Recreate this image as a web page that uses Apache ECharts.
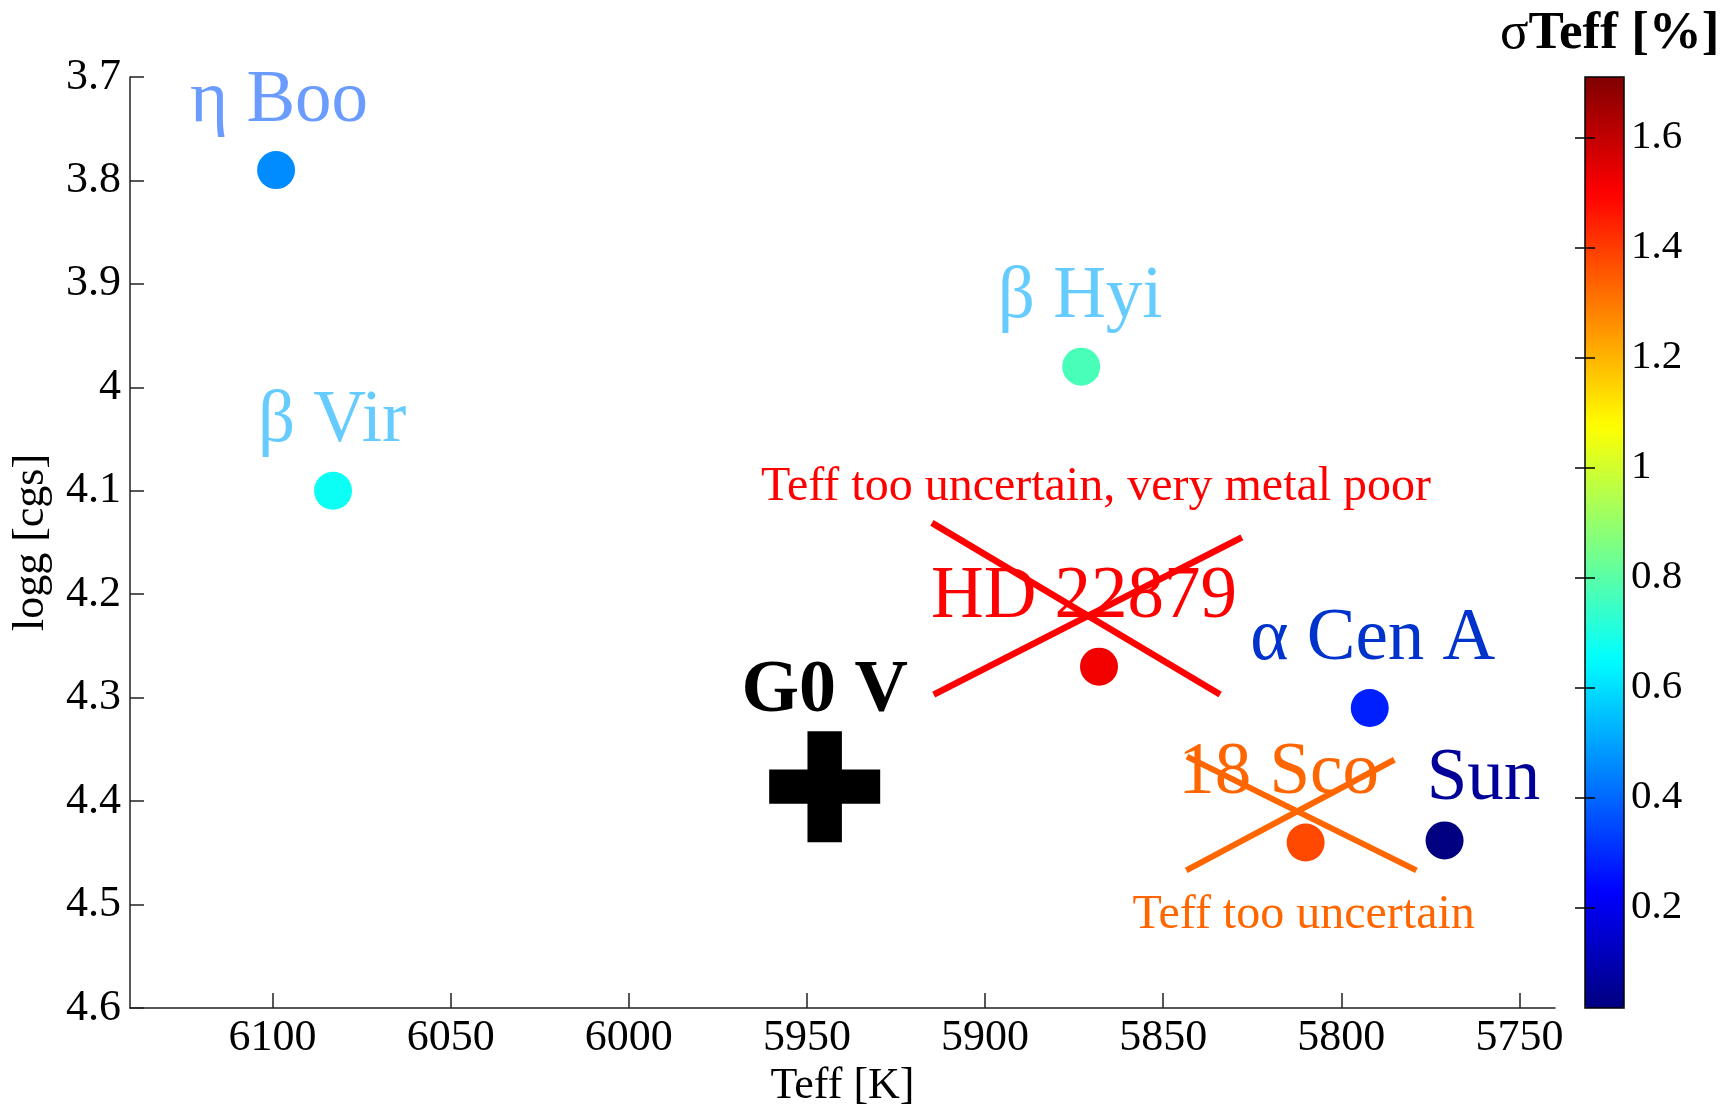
<!DOCTYPE html>
<html>
<head>
<meta charset="utf-8">
<title>Benchmark stars: Teff vs logg</title>
<script src="https://cdn.jsdelivr.net/npm/echarts@6/dist/echarts.min.js"></script>
<style>
  html, body { margin: 0; padding: 0; background: #fff; }
  #chart { width: 1736px; height: 1106px; }
</style>
</head>
<body>
<div id="chart"></div>
<script>
// Benchmark stars: effective temperature, surface gravity and relative Teff uncertainty
const starNames = ['η Boo', 'β Vir', 'β Hyi', 'HD 22879', 'α Cen A', '18 Sco', 'Sun'];
const starTeff  = [6099, 6083, 5873, 5868, 5792, 5810, 5771];
const starLogg  = [3.79, 4.10, 3.98, 4.27, 4.31, 4.44, 4.438];
const starSigma = [0.46, 0.67, 0.77, 1.52, 0.28, 1.38, 0.017];

// Reference spectral type
const refNames = ['G0 V'];
const refTeff  = [5945];
const refLogg  = [4.386];

// Rejected stars and their notes
const noteStars = ['HD 22879', '18 Sco'];
const noteTexts = ['Teff too uncertain, very metal poor', 'Teff too uncertain'];

// Strike-through segments (Teff, logg) over the rejected stars
const strikeHD22879 = [
  [[5914.9, 4.131], [5834.0, 4.297]],
  [[5914.4, 4.297], [5827.9, 4.145]]
];
const strike18Sco = [
  [[5843.3, 4.357], [5778.9, 4.467]],
  [[5843.5, 4.467], [5785.1, 4.360]]
];

// Axis ticks
const teffTicks = [6100, 6050, 6000, 5950, 5900, 5850, 5800, 5750];
const sigmaTicks = [0.2, 0.4, 0.6, 0.8, 1, 1.2, 1.4, 1.6];
const sigmaRange = [0.017, 1.71];

const FONT = '"Liberation Serif", "Times New Roman", serif';

// Label colours and placement per star
const labelLook = {
  'η Boo':    { color: '#6a9cff', dx: 3,   dy: 0 },
  'β Vir':    { color: '#66ccff', dx: -1,  dy: 0 },
  'β Hyi':    { color: '#66ccff', dx: -1,  dy: 0 },
  'HD 22879': { color: '#ff0000', dx: -15, dy: 0 },
  'α Cen A':  { color: '#0033cc', dx: 3,   dy: 0 },
  '18 Sco':   { color: '#ff6600', dx: -27, dy: 0 },
  'Sun':      { color: '#000099', dx: 39,  dy: 8 }
};
const noteLook = {
  'HD 22879': { color: '#ff0000', position: 'top',    distance: 155, dx: -3 },
  '18 Sco':   { color: '#ff6600', position: 'bottom', distance: 48,  dx: -2 }
};

// MATLAB-style jet colormap
const jet = ['#000080', '#0000ff', '#0080ff', '#00ffff', '#80ff80',
             '#ffff00', '#ff8000', '#ff0000', '#800000'];

const starData = starNames.map((n, i) => {
  const look = labelLook[n];
  return {
    name: n,
    value: [starTeff[i], starLogg[i], starSigma[i]],
    label: {
      show: true,
      formatter: n,
      position: 'top',
      distance: 13,
      offset: [look.dx, look.dy],
      color: look.color,
      opacity: 1,
      fontFamily: FONT,
      fontSize: 73
    }
  };
});

const refData = refNames.map((n, i) => ({
  name: n,
  value: [refTeff[i], refLogg[i]],
  label: {
    show: true,
    formatter: n,
    position: 'top',
    distance: 2,
    color: '#000',
    opacity: 1,
    fontFamily: FONT,
    fontWeight: 'bold',
    fontSize: 74
  }
}));

const noteData = noteStars.map((n, i) => {
  const k = starNames.indexOf(n);
  const look = noteLook[n];
  return {
    name: n,
    value: [starTeff[k], starLogg[k]],
    label: {
      show: true,
      formatter: noteTexts[i],
      position: look.position,
      distance: look.distance,
      offset: [look.dx, 0],
      color: look.color,
      opacity: 1,
      fontFamily: FONT,
      fontSize: 48
    }
  };
});

const strikeSeries = [];
strikeHD22879.forEach(seg => strikeSeries.push({
  type: 'line', xAxisIndex: 0, yAxisIndex: 0, data: seg, symbol: 'none',
  silent: true, z: 4, lineStyle: { color: '#ff0000', width: 6.5, opacity: 1 }
}));
strike18Sco.forEach(seg => strikeSeries.push({
  type: 'line', xAxisIndex: 0, yAxisIndex: 0, data: seg, symbol: 'none',
  silent: true, z: 4, lineStyle: { color: '#ff6600', width: 6, opacity: 1 }
}));

const axisBlack = { color: '#222', width: 1.5 };
const plainNumber = v => String(v);

const option = {
  animation: false,
  backgroundColor: '#ffffff',
  textStyle: { fontFamily: FONT },
  grid: [
    { left: 130, top: 77, right: 181, bottom: 98, show: false, outerBoundsMode: 'none', containLabel: false },
    { left: 1585, top: 77, width: 39, height: 931, show: true, outerBoundsMode: 'none', containLabel: false,
      borderColor: '#000', borderWidth: 1.5, backgroundColor: 'transparent', z: 10 }
  ],
  xAxis: [
    {
      type: 'value', gridIndex: 0, min: 5740, max: 6140, inverse: true,
      splitLine: { show: false },
      axisLine: { onZero: false, lineStyle: axisBlack },
      axisTick: { inside: true, length: 15, customValues: teffTicks, lineStyle: axisBlack },
      axisLabel: { customValues: teffTicks, formatter: plainNumber, color: '#000', fontFamily: FONT, fontSize: 44, margin: 8 },
      name: 'Teff [K]', nameLocation: 'middle', nameGap: 52,
      nameTextStyle: { color: '#000', fontFamily: FONT, fontSize: 44 }
    },
    { type: 'value', gridIndex: 1, min: 0, max: 1, show: false }
  ],
  yAxis: [
    {
      type: 'value', gridIndex: 0, min: 3.7, max: 4.6, interval: 0.1, inverse: true,
      splitLine: { show: false },
      axisLine: { onZero: false, lineStyle: axisBlack },
      axisTick: { inside: true, length: 14, lineStyle: axisBlack },
      axisLabel: { formatter: plainNumber, color: '#000', fontFamily: FONT, fontSize: 44, margin: 9 },
      name: 'logg [cgs]', nameLocation: 'middle', nameGap: 77,
      nameTextStyle: { color: '#000', fontFamily: FONT, fontSize: 44 }
    },
    {
      type: 'value', gridIndex: 1, min: sigmaRange[0], max: sigmaRange[1], position: 'right',
      splitLine: { show: false }, axisLine: { show: false }, z: 12,
      axisTick: { inside: true, length: 10, customValues: sigmaTicks, lineStyle: { color: '#000', width: 1.5 } },
      axisLabel: { customValues: sigmaTicks, formatter: plainNumber, color: '#000', fontFamily: FONT, fontSize: 41, margin: 7 }
    },
    {
      type: 'value', gridIndex: 1, min: sigmaRange[0], max: sigmaRange[1], position: 'left',
      splitLine: { show: false }, axisLine: { show: false }, z: 12,
      axisTick: { inside: true, length: 10, customValues: sigmaTicks, lineStyle: { color: '#000', width: 1.5 } },
      axisLabel: { show: false }
    }
  ],
  visualMap: {
    type: 'continuous',
    min: sigmaRange[0], max: sigmaRange[1],
    dimension: 2, seriesIndex: 0,
    calculable: false, hoverLink: false,
    orient: 'vertical',
    left: 1585, top: 77, padding: 0,
    itemWidth: 39, itemHeight: 931,
    inRange: { color: jet },
    z: 5
  },
  graphic: [
    {
      type: 'text', left: 1500, top: 8, z: 20,
      style: {
        text: '{s|σ}{b|Teff [%]}',
        rich: {
          s: { fontFamily: FONT, fontSize: 53, fill: '#000', fontWeight: 'normal' },
          b: { fontFamily: FONT, fontSize: 53, fill: '#000', fontWeight: 'bold' }
        }
      }
    }
  ],
  series: [
    {
      type: 'scatter', name: 'stars', xAxisIndex: 0, yAxisIndex: 0,
      symbol: 'circle', symbolSize: 38, z: 3, itemStyle: { opacity: 1 }, data: starData
    },
    {
      type: 'scatter', name: 'reference', xAxisIndex: 0, yAxisIndex: 0,
      symbol: 'path://M34.5,0H65.5V34.5H100V65.5H65.5V100H34.5V65.5H0V34.5H34.5Z',
      symbolSize: 111, itemStyle: { color: '#000', opacity: 1 }, z: 3, data: refData
    },
    {
      type: 'scatter', name: 'notes', xAxisIndex: 0, yAxisIndex: 0,
      symbolSize: 1, itemStyle: { color: 'rgba(0,0,0,0)', opacity: 1 }, z: 3, data: noteData
    }
  ].concat(strikeSeries)
};

const chart = echarts.init(document.getElementById('chart'), null, { renderer: 'canvas' });
chart.setOption(option);
</script>
</body>
</html>
